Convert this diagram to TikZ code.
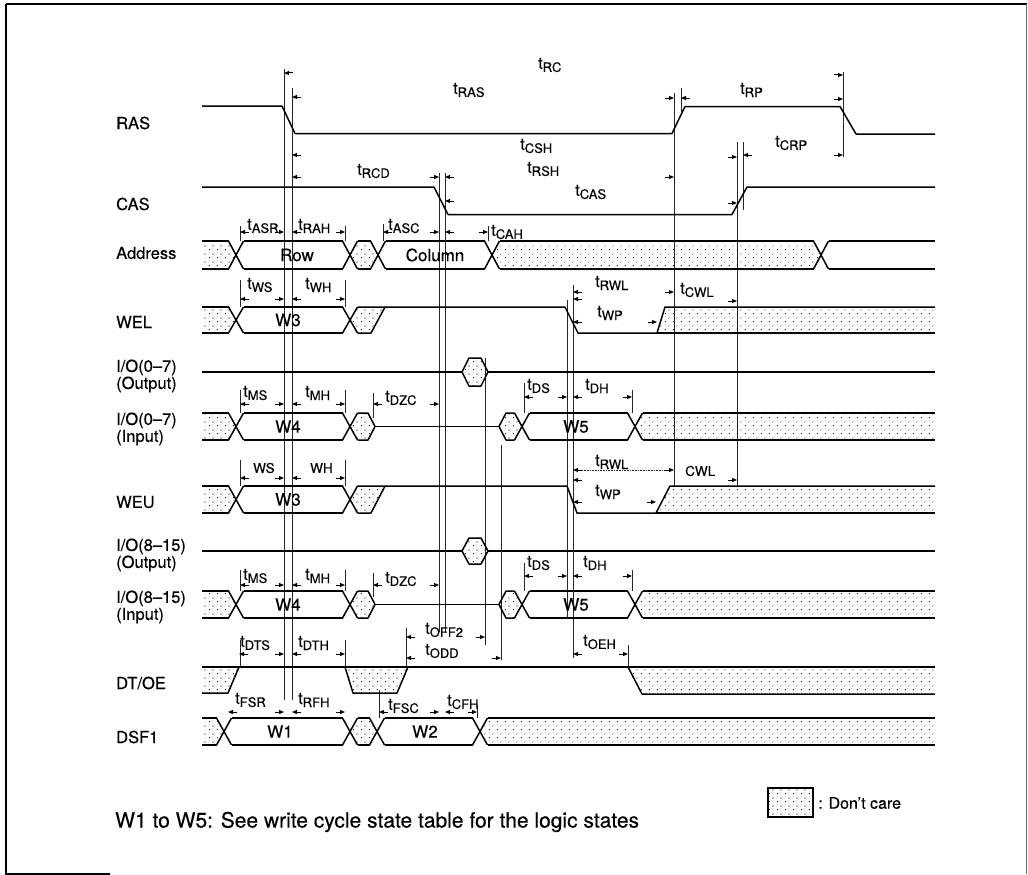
\documentclass[tikz,border=0pt]{standalone}
\usepackage{fontspec}
\setmainfont{TeX Gyre Heros}[FakeBold=0.3]
\usetikzlibrary{arrows.meta,patterns}
\pgfdeclarepatternformonly{sparsedots}{\pgfpointorigin}{\pgfqpoint{8pt}{8pt}}{\pgfqpoint{8pt}{8pt}}{%
  \pgfpathcircle{\pgfqpoint{1.5pt}{1.5pt}}{0.65pt}%
  \pgfpathcircle{\pgfqpoint{5.5pt}{5.5pt}}{0.65pt}%
  \pgfusepath{fill}}
\newcommand\tsub[1]{t\raisebox{-3pt}{\fontsize{13}{13}\selectfont #1}}
\newcommand\tlab[4]{\node[tl] (#1) at (#2,#3) {\tsub{#4}};}
\newcommand\dL[2]{\draw[dim] ({#1+9},#2) -- (#1,#2);}
\newcommand\dR[2]{\draw[dim] ({#1-9},#2) -- (#1,#2);}
\newcommand\bX[3]{\draw[sig] ({#1-7.5},#2) -- ({#1+7.5},#3) ({#1-7.5},#3) -- ({#1+7.5},#2);}
\newcommand\bSeg[4]{\draw[sig] ({#1+7.5},#3) -- ({#2-7.5},#3) ({#1+7.5},#4) -- ({#2-7.5},#4);}
\newcommand\bDots[4]{\fill[dc] (#1,{(#3+#4)/2}) -- ({#1+7.5},#3) -- ({#2-7.5},#3) -- (#2,{(#3+#4)/2}) -- ({#2-7.5},#4) -- ({#1+7.5},#4) -- cycle; \bSeg{#1}{#2}{#3}{#4}}
\newcommand\bStart[3]{\fill[dc] (202,#2) -- ({#1-7.5},#2) -- (#1,{(#2+#3)/2}) -- ({#1-7.5},#3) -- (202,#3) -- cycle; \draw[sig] (202,#2) -- ({#1-7.5},#2) (202,#3) -- ({#1-7.5},#3);}
\newcommand\bEnd[3]{\fill[dc] (#1,{(#2+#3)/2}) -- ({#1+7.5},#2) -- (935,#2) -- (935,#3) -- ({#1+7.5},#3) -- cycle; \draw[sig] ({#1+7.5},#2) -- (935,#2) ({#1+7.5},#3) -- (935,#3);}
\newcommand\bEndOpen[3]{\draw[sig] ({#1+7.5},#2) -- (935,#2) ({#1+7.5},#3) -- (935,#3);}
\newcommand\inrow[2]{%
  \bStart{236}{#1}{#2}\bX{236}{#1}{#2}\bSeg{236}{350}{#1}{#2}\bX{350}{#1}{#2}%
  \fill[dc] (350,{(#1+#2)/2}) -- (357.5,#1) -- (368,#1) -- (375,{(#1+#2)/2}) -- (368,#2) -- (357.5,#2) -- cycle;
  \draw[sig] (357.5,#1) -- (368,#1) -- (375,{(#1+#2)/2}) -- (368,#2) -- (357.5,#2);
  \draw[sig,line width=1.1pt] (375,{(#1+#2)/2}) -- (499,{(#1+#2)/2});
  \fill[dc] (499,{(#1+#2)/2}) -- (506,#1) -- (514.5,#1) -- (522,{(#1+#2)/2}) -- (514.5,#2) -- (506,#2) -- cycle;
  \draw[sig] (514.5,#1) -- (506,#1) -- (499,{(#1+#2)/2}) -- (506,#2) -- (514.5,#2);
  \bX{522}{#1}{#2}\bSeg{522}{635}{#1}{#2}\bX{635}{#1}{#2}\bEnd{635}{#1}{#2}}
\newcommand\outrow[3]{%
  \draw[sig,line width=1.2pt] (202,#1) -- (462,#1) (488,#1) -- (935,#1);
  \filldraw[dc,sig] (462,#1) -- (469,#2) -- (481,#2) -- (488,#1) -- (481,#3) -- (469,#3) -- cycle;}
\newcommand\werow[6]{%
  \bStart{236}{#1}{#2}\bX{236}{#1}{#2}\bSeg{236}{350}{#1}{#2}\bX{350}{#1}{#2}%
  \fill[dc] (350,{(#1+#2)/2}) -- (357.5,#1) -- (385,#1) -- (371,#2) -- (357.5,#2) -- cycle;
  \draw[sig] (357.5,#2) -- (371,#2) -- (385,#1);
  \draw[sig] (357.5,#1) -- (#3,#1) -- (#4,#2) -- (#5,#2) -- (#6,#1) -- (935,#1);
  \fill[dc] (#5,#2) -- (#6,#1) -- (935,#1) -- (935,#2) -- cycle;
  \draw[sig] (#5,#2) -- (935,#2);}
\begin{document}
\begin{tikzpicture}[x=1pt,y=-1pt,
  sig/.style={line width=1.5pt,line join=round},
  ref/.style={line width=0.6pt,black!85},
  dc/.style={pattern=sparsedots,pattern color=black},
  lab/.style={font=\fontsize{16.5}{17}\selectfont,anchor=west,inner sep=0pt,align=left},
  tl/.style={font=\fontsize{16.5}{16.5}\selectfont,anchor=west,inner sep=0pt},
  box/.style={font=\fontsize{17}{17}\selectfont,inner sep=0pt},
  dim/.style={line width=1pt,-{Triangle[length=5pt,width=4pt]}}]
\useasboundingbox (0,0) rectangle (1028,875);
% frame
\draw[line width=2pt] (6,4) -- (1027,4);
\draw[line width=1.4pt] (6,4) -- (6,874) -- (110,874);
\draw[line width=0.8pt,black!60] (1026,4) -- (1026,874);
% reference lines
\foreach \x/\a/\b in {284/69/700,292/88/700,439/173/632,445/173/632,485/358/645,501/445/660,406/628/667,567/300/618,573/285/658,674/93/487,681/88/112,737/142/487,743/142/210,843/72/157}
  \draw[ref] (\x,\a) -- (\x,\b);
\foreach \y/\z in {226/241,280/307,390/413,460/486,570/591,640/667}
  {\draw[ref] (240,\y) -- (240,\z); \draw[ref] (345,\y) -- (345,\z);}
\foreach \x/\a/\b in {383/224/241,373/393/418,373/573/597,488/226/241,524/383/413,524/563/591,632/390/413,632/570/591,628/645/667,379/690/718,477/705/718}
  \draw[ref] (\x,\a) -- (\x,\b);
% signal labels
\node[lab] (sRAS) at (116,123) {RAS};
\node[lab] (sCAS) at (116,204) {CAS};
\node[lab] (sADR) at (116,253) {Address};
\node[lab] (sWEL) at (116,322) {WEL};
\node[lab] (sIO1) at (116,376) {I/O(0--7)\\(Output)};
\node[lab] (sIO2) at (116,429) {I/O(0--7)\\(Input)};
\node[lab] (sWEU) at (116,502) {WEU};
\node[lab] (sIO3) at (116,555) {I/O(8--15)\\(Output)};
\node[lab] (sIO4) at (116,607) {I/O(8--15)\\(Input)};
\node[lab] (sDT) at (116,683) {DT/OE};
\node[lab] (sDSF) at (116,737) {DSF1};
% RAS, CAS
\draw[sig] (202,106) -- (282,106) -- (295,133.5) -- (672,133.5) -- (685,106.5) -- (840,106.5) -- (856,134) -- (935,134);
\draw[sig] (202,187) -- (434,187) -- (448,214.5) -- (732,214.5) -- (747,187) -- (935,187);
% Address
\bStart{236}{241}{269}\bX{236}{241}{269}\bSeg{236}{350}{241}{269}\bX{350}{241}{269}
\bDots{350}{378}{241}{269}\bX{378}{241}{269}\bSeg{378}{492}{241}{269}\bX{492}{241}{269}
\bDots{492}{821}{241}{269}\bX{821}{241}{269}\bEndOpen{821}{241}{269}
\node[box] (row) at (297,255) {Row};
\node[box] (col) at (435,255) {Column};
% WEL / WEU
\werow{307}{333}{565}{578}{657}{665}
\werow{486}{513}{567}{577}{656}{670}
\node[box] (w3a) at (288,320) {W3};
\node[box] (w3b) at (288,499.5) {W3};
% I/O rows
\outrow{372}{358}{386}
\outrow{551}{538}{564}
\inrow{413}{440}
\inrow{591}{618}
\node[box] (w4a) at (288,426.5) {W4};
\node[box] (w5a) at (576,426.5) {W5};
\node[box] (w4b) at (288,604.5) {W4};
\node[box] (w5b) at (576,604.5) {W5};
% DT/OE
\fill[dc] (202,667) -- (239,667) -- (228,693) -- (202,693) -- cycle;
\fill[dc] (345,667) -- (353,693) -- (397,693) -- (408,667) -- cycle;
\fill[dc] (628,667) -- (642,694) -- (935,694) -- (935,667) -- cycle;
\draw[sig] (202,667) -- (935,667);
\draw[sig] (202,693) -- (228,693) -- (239,667);
\draw[sig] (345,667) -- (353,693) -- (397,693) -- (408,667);
\draw[sig] (628,667) -- (642,694) -- (935,694);
% DSF1
\bStart{224}{718}{745}\bX{224}{718}{745}\bSeg{224}{350}{718}{745}\bX{350}{718}{745}
\bDots{350}{377}{718}{745}\bX{377}{718}{745}\bSeg{377}{480}{718}{745}\bX{480}{718}{745}
\bEnd{480}{718}{745}
\node[box] (w1) at (280,731.5) {W1};
\node[box] (w2) at (425,731.5) {W2};
% dimension arrows
\dL{284}{73}\dR{843}{75}
\dL{292}{97}\dR{674}{98}
\dL{681}{98}\dR{843}{99}
\dL{292}{155}\dR{737}{157}
\dL{743}{155}\dR{843}{155}
\dL{292}{177}\dR{439}{177}
\dL{445}{177}\dR{674}{177}
\dL{445}{201}\dR{737}{203}
\dL{240}{232}\dR{284}{232}
\dL{292}{232}\dR{345}{232}
\dL{383}{232}\dR{439}{232}
\dL{445}{232}\dR{488}{232}
\dL{240}{299}\dR{284}{299}
\dL{292}{299}\dR{345}{299}
\dL{573}{292}\dR{674}{292}
\dL{573}{299}\dR{737}{301}
\dL{573}{322}\dR{657}{322}
\dL{240}{404}\dR{284}{404}
\dL{292}{404}\dR{345}{404}
\dL{373}{404}\dR{439}{404}
\dL{524}{397}\dR{567}{397}
\dL{573}{397}\dR{632}{397}
\dL{240}{478}\dR{284}{478}
\dL{292}{478}\dR{345}{478}
\dL{573}{470}\dR{674}{470}
\draw[ref,densely dotted] (582,470) -- (665,470);
\dL{573}{480}\dR{737}{480}
\dL{573}{502}\dR{656}{502}
\dL{240}{585}\dR{284}{585}
\dL{292}{585}\dR{345}{585}
\dL{373}{585}\dR{439}{585}
\dL{524}{576}\dR{567}{576}
\dL{573}{576}\dR{632}{576}
\dL{406}{637}\dR{485}{637}
\dL{406}{658}\dR{501}{658}
\dL{239}{654}\dR{284}{654}
\dL{292}{654}\dR{345}{654}
\dL{573}{654}\dR{628}{654}
\dL{228}{712}\dR{284}{712}
\dL{292}{712}\dR{345}{712}
\dL{379}{712}\dR{439}{712}
\dL{445}{712}\dR{477}{712}
% timing labels
\tlab{tRC}{538}{65}{RC}
\tlab{tRAS}{453}{90}{RAS}
\tlab{tRP}{740}{90}{RP}
\tlab{tCSH}{520}{146}{CSH}
\tlab{tRSH}{527}{169}{RSH}
\tlab{tCAS}{575}{192}{CAS}
\tlab{tCRP}{775}{143}{CRP}
\tlab{tRCD}{357}{171}{RCD}
\tlab{tASR}{247}{226}{ASR}
\tlab{tRAH}{298}{226}{RAH}
\tlab{tASC}{388}{226}{ASC}
\tlab{tCAH}{491}{232}{CAH}
\tlab{tWS}{247}{285}{WS}
\tlab{tWH}{305}{285}{WH}
\tlab{tRWL}{595}{283}{RWL}
\tlab{tWP}{597}{313}{WP}
\tlab{tCWL}{680}{290}{CWL}
\tlab{tMS}{243}{393}{MS}
\tlab{tMH}{305}{393}{MH}
\tlab{tDZC}{385}{398}{DZC}
\tlab{tDS}{527}{386}{DS}
\tlab{tDH}{585}{386}{DH}
\node[tl,font=\fontsize{13.5}{13.5}\selectfont] (lWS) at (253,468) {WS};
\node[tl,font=\fontsize{13.5}{13.5}\selectfont] (lWH) at (310,468) {WH};
\tlab{tRWLb}{595}{462}{RWL}
\node[tl,font=\fontsize{13.5}{13.5}\selectfont] (lCWL) at (685,471) {CWL};
\tlab{tWPb}{595}{492}{WP}
\tlab{tMSb}{243}{576}{MS}
\tlab{tMHb}{305}{576}{MH}
\tlab{tDZCb}{385}{579}{DZC}
\tlab{tDSb}{527}{563}{DS}
\tlab{tDHb}{583}{563}{DH}
\tlab{tOFF}{425}{630}{OFF2}
\tlab{tODD}{425}{651}{ODD}
\tlab{tDTS}{240}{643}{DTS}
\tlab{tDTH}{298}{643}{DTH}
\tlab{tOEH}{583}{642}{OEH}
\tlab{tFSR}{235}{700}{FSR}
\tlab{tRFH}{298}{700}{RFH}
\tlab{tFSC}{388}{706}{FSC}
\tlab{tCFH}{447}{702}{CFH}
% legend and note
\filldraw[dc,line width=1.2pt] (768,788) rectangle (813,817);
\node[tl,font=\fontsize{16}{16}\selectfont] (dcare) at (818,803) {: Don’t care};
\node[anchor=west,inner sep=0pt,font=\fontsize{21}{21}\selectfont] (note) at (115,822) {W1 to W5: See write cycle state table for the logic states};
\end{tikzpicture}
\end{document}
